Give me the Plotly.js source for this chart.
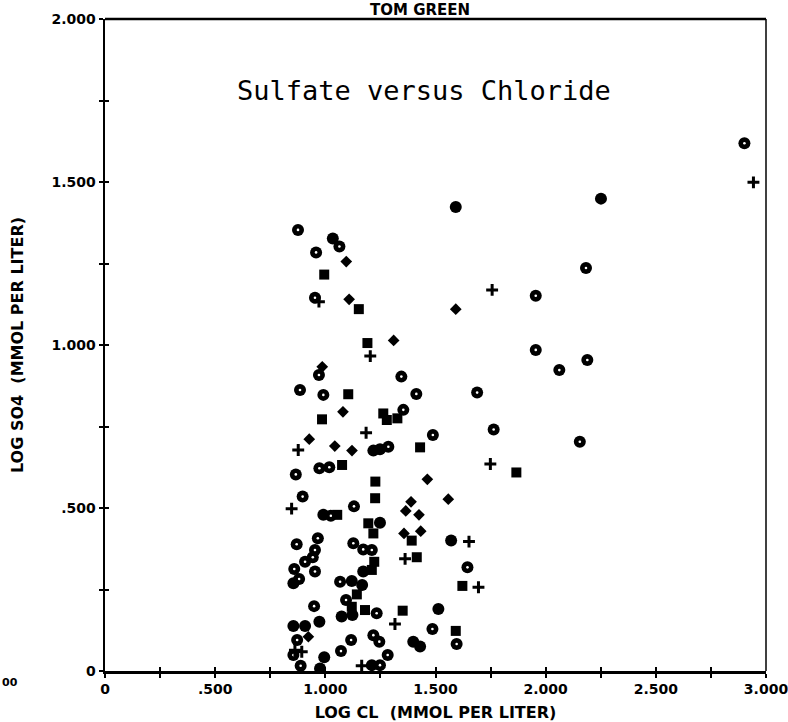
<!DOCTYPE html>
<html>
<head>
<meta charset="utf-8">
<script src="https://cdn.plot.ly/plotly-3.0.1.min.js"></script>
<style>
  html, body { margin: 0; padding: 0; background: #fff; }
  #chart { width: 788px; height: 722px; }
</style>
</head>
<body>
<div id="chart"></div>
<script>
// Log chloride (x) vs log sulfate (y), mmol per liter, grouped by plotting symbol
const dotCircleX = [2.902,2.183,1.955,1.955,2.189,2.062,2.155,1.689,1.413,1.345,1.764,1.488,1.354,0.876,1.064,0.958,0.953,0.971,0.885,0.991,1.286,0.866,0.973,1.018,0.897,1.130,1.025,1.645,0.966,0.870,1.127,1.172,1.211,0.953,0.943,0.908,0.859,0.953,0.881,1.067,1.094,0.949,1.233,1.486,1.596,1.117,1.218,1.245,0.855,1.071,1.283,0.888,1.248,0.872];
const dotCircleY = [1.619,1.236,1.151,0.985,0.954,0.923,0.703,0.854,0.850,0.903,0.741,0.724,0.801,1.353,1.302,1.284,1.145,0.908,0.862,0.847,0.688,0.603,0.622,0.625,0.535,0.505,0.476,0.318,0.407,0.389,0.392,0.373,0.371,0.371,0.349,0.335,0.313,0.305,0.282,0.274,0.218,0.199,0.177,0.129,0.083,0.095,0.110,0.090,0.049,0.061,0.049,0.016,0.018,0.095];

const solidX = [2.251,1.592,1.034,1.218,1.248,0.991,1.248,1.172,0.855,1.120,1.167,1.074,1.123,0.855,0.908,0.973,1.571,1.513,1.399,1.430,0.995,0.976,1.211];
const solidY = [1.449,1.423,1.327,0.676,0.680,0.479,0.455,0.305,0.269,0.276,0.264,0.167,0.172,0.138,0.138,0.151,0.400,0.190,0.090,0.075,0.042,0.008,0.018];

const diamondX = [1.592,1.095,1.108,1.310,0.986,1.080,0.927,1.043,1.121,1.389,1.558,1.365,1.425,1.357,1.433,1.463,0.923];
const diamondY = [1.110,1.256,1.140,1.014,0.933,0.795,0.711,0.690,0.676,0.519,0.527,0.491,0.479,0.422,0.429,0.588,0.105];

const squareX = [1.867,0.995,1.152,1.191,1.104,0.985,1.263,1.279,1.327,1.430,1.076,1.227,1.226,1.054,1.195,1.218,1.392,1.222,1.211,1.415,1.622,1.143,1.120,1.180,1.351,1.592];
const squareY = [0.609,1.216,1.110,1.006,0.849,0.772,0.790,0.770,0.775,0.686,0.632,0.581,0.530,0.479,0.453,0.422,0.400,0.335,0.310,0.349,0.261,0.235,0.197,0.187,0.185,0.123];

const plusX = [2.943,1.757,0.971,1.204,1.185,0.877,1.749,0.847,1.652,1.695,1.362,1.316,0.862,0.893,1.165];
const plusY = [1.499,1.169,1.133,0.966,0.731,0.678,0.635,0.498,0.397,0.257,0.344,0.144,0.064,0.059,0.016];

// Axis ticks every 0.25, labelled every 0.5
const xTickVals = [0,0.25,0.5,0.75,1,1.25,1.5,1.75,2,2.25,2.5,2.75,3];
const xTickText = ['0','','.500','','1.000','','1.500','','2.000','','2.500','','3.000'];
const yTickVals = [0,0.25,0.5,0.75,1,1.25,1.5,1.75,2];
const yTickText = ['0','','.500','','1.000','','1.500','','2.000'];

const INK = '#000';
const tickFont = { family: 'DejaVu Sans', size: 14, weight: 'bold', color: INK };
const titleFont = { family: 'DejaVu Sans', size: 16, weight: 'bold', color: INK };

const traces = [
  { type: 'scatter', mode: 'markers', x: dotCircleX, y: dotCircleY,
    marker: { symbol: 'circle', size: 12, color: INK, line: { width: 0 } }, hoverinfo: 'x+y' },
  { type: 'scatter', mode: 'markers', x: dotCircleX, y: dotCircleY,
    marker: { symbol: 'circle', size: 2.6, color: '#fff', line: { width: 0 } }, hoverinfo: 'skip' },
  { type: 'scatter', mode: 'markers', x: solidX, y: solidY,
    marker: { symbol: 'circle', size: 12, color: INK, line: { width: 0 } } },
  { type: 'scatter', mode: 'markers', x: diamondX, y: diamondY,
    marker: { symbol: 'diamond', size: 9, color: INK, line: { width: 0 } } },
  { type: 'scatter', mode: 'markers', x: squareX, y: squareY,
    marker: { symbol: 'square', size: 10, color: INK, line: { width: 0 } } },
  { type: 'scatter', mode: 'markers', x: plusX, y: plusY,
    marker: { symbol: 'cross-thin', size: 8.5, color: INK, line: { width: 3, color: INK } } },
  // carries the inward half of the crossing tick marks
  { type: 'scatter', mode: 'markers', x: [], y: [], xaxis: 'x2', yaxis: 'y2', hoverinfo: 'skip' }
];

const baseX = {
  range: [0, 3], tickmode: 'array', tickvals: xTickVals, ticktext: xTickText,
  showgrid: false, zeroline: false, tickcolor: INK, tickwidth: 2, ticklen: 4
};
const baseY = {
  range: [0, 2], tickmode: 'array', tickvals: yTickVals, ticktext: yTickText,
  showgrid: false, zeroline: false, tickcolor: INK, tickwidth: 2, ticklen: 4
};

const layout = {
  width: 788, height: 722,
  margin: { l: 105, r: 22, t: 19, b: 51 },
  paper_bgcolor: '#fff', plot_bgcolor: '#fff',
  showlegend: false,
  xaxis: Object.assign({}, baseX, {
    ticks: 'outside', showline: true, linecolor: INK, linewidth: 2.5,
    tickfont: tickFont, ticklabeloverflow: 'allow',
    title: { text: 'LOG CL  (MMOL PER LITER)', font: titleFont, standoff: 11 }
  }),
  yaxis: Object.assign({}, baseY, {
    ticks: 'outside', showline: true, linecolor: INK, linewidth: 2.5,
    tickfont: tickFont, ticklabeloverflow: 'allow',
    title: { text: 'LOG SO4  (MMOL PER LITER)', font: titleFont, standoff: 24 }
  }),
  xaxis2: Object.assign({}, baseX, {
    overlaying: 'x', anchor: 'y2', ticks: 'inside', showticklabels: false, showline: false
  }),
  yaxis2: Object.assign({}, baseY, {
    overlaying: 'y', anchor: 'x2', ticks: 'inside', showticklabels: false, showline: false
  }),
  shapes: [
    // top and right edges of the frame
    { type: 'line', xref: 'paper', yref: 'paper', x0: 0, x1: 1, y0: 1, y1: 1,
      line: { color: INK, width: 2.5 } },
    { type: 'line', xref: 'paper', yref: 'paper', x0: 1, x1: 1, y0: 0, y1: 1,
      line: { color: INK, width: 1.5 } }
  ],
  annotations: [
    // county name above the frame
    { text: 'TOM GREEN', xref: 'paper', yref: 'paper',
      x: 0.477, y: 1.0138, xanchor: 'center', yanchor: 'middle', showarrow: false,
      font: { family: 'DejaVu Sans', size: 15, weight: 'bold', color: INK } },
    { text: 'Sulfate versus Chloride', xref: 'paper', yref: 'paper',
      x: 0.482, y: 0.89, xanchor: 'center', yanchor: 'middle', showarrow: false,
      font: { family: 'DejaVu Sans Mono', size: 27, color: INK } },
    { text: '00', xref: 'paper', yref: 'paper', x: -0.159, y: -0.018,
      xanchor: 'left', yanchor: 'middle', showarrow: false,
      font: { family: 'DejaVu Sans', size: 11, weight: 'bold', color: INK } }
  ]
};

Plotly.newPlot('chart', traces, layout, { displayModeBar: false, staticPlot: true });
</script>
</body>
</html>
